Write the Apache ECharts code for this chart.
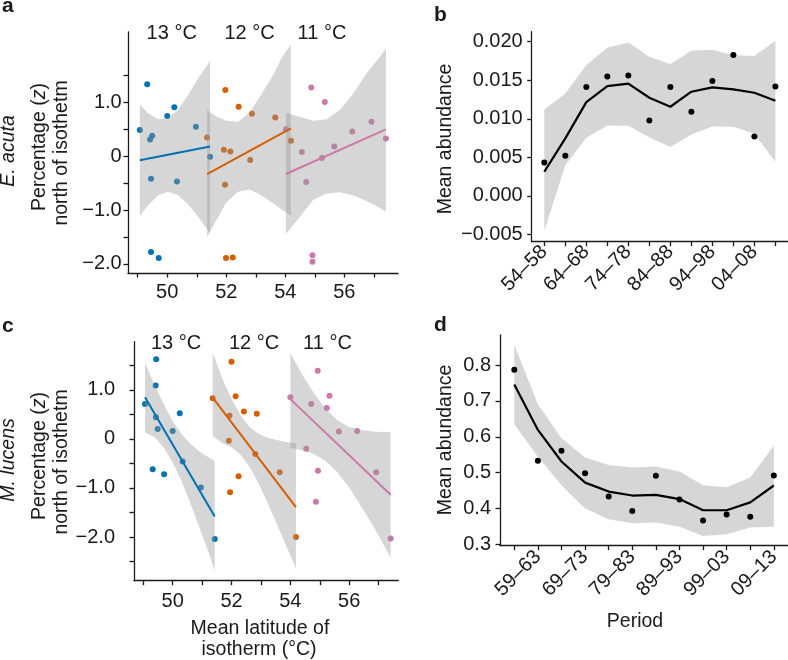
<!DOCTYPE html>
<html><head><meta charset="utf-8">
<script src="https://cdn.jsdelivr.net/npm/echarts@6/dist/echarts.min.js"></script>
<style>html,body{margin:0;padding:0;background:#fff}#c{width:788px;height:660px}</style>
</head><body><div id="c"></div>
<script>
// ---------- data ----------
const periods = ['54–58','59–63','64–68','69–73','74–78','79–83','84–88','89–93','94–98','99–03','04–08','09–13'];
const latTicks = [49,50,51,52,53,54,55,56,57];
const latLabels = [50,52,54,56];
const zTicksA = [-2,-1.5,-1,-0.5,0,0.5,1,1.5];
const zTicksC = [-2.5,-2,-1.5,-1,-0.5,0,0.5,1,1.5];
const zLabels = [-2,-1,0,1];
const abundTicksB = [-0.005,0,0.005,0.01,0.015,0.02];
const abundTicksD = [0.3,0.4,0.5,0.6,0.7,0.8];
const periodIdx = [0,1,2,3,4,5,6,7,8,9,10,11];
const periodLabelsB = [0,2,4,6,8,10];
const periodLabelsD = [1,3,5,7,9,11];
const tempNames = ['13 °C','12 °C','11 °C'];

// panel a – E. acuta
const acuta13Pts = [[49.32,1.34],[49.07,0.49],[49.49,0.38],[49.42,0.31],[50.0,0.75],[50.24,0.91],[50.97,0.55],[49.45,-0.42],[50.33,-0.47],[51.45,-0.01],[49.45,-1.78],[49.71,-1.89]];
const acuta12Pts = [[51.35,0.35],[51.97,1.23],[52.42,0.92],[52.87,0.79],[53.66,0.72],[51.92,0.12],[52.14,0.09],[52.81,-0.07],[51.96,-0.53],[54.19,0.29],[51.99,-1.89],[52.22,-1.88]];
const acuta11Pts = [[54.02,0.50],[54.88,1.28],[55.34,1.01],[54.56,0.08],[55.66,0.18],[56.27,0.46],[56.92,0.64],[57.41,0.33],[55.24,-0.03],[54.71,-0.48],[54.92,-1.84],[54.92,-1.96]];
const acuta13Fit = [[49.07,-0.075],[51.45,0.18]];
const acuta12Fit = [[51.35,-0.33],[54.19,0.52]];
const acuta11Fit = [[54.02,-0.33],[57.41,0.50]];
const acuta13Upper = [[49.07,0.96],[49.35,0.80],[49.68,0.69],[50.02,0.71],[50.36,0.86],[50.70,1.13],[51.04,1.44],[51.45,1.77]];
const acuta13Lower = [[49.07,-1.11],[49.35,-0.91],[49.68,-0.73],[50.02,-0.66],[50.36,-0.72],[50.70,-0.89],[51.04,-1.12],[51.45,-1.43]];
const acuta12Upper = [[51.35,0.86],[51.7,0.73],[52.0,0.66],[52.4,0.64],[52.8,0.82],[53.2,1.16],[53.6,1.52],[53.9,1.85],[54.19,2.08]];
const acuta12Lower = [[51.35,-1.50],[51.7,-1.15],[52.0,-0.86],[52.4,-0.66],[52.8,-0.62],[53.2,-0.73],[53.6,-0.88],[53.9,-1.00],[54.19,-1.10]];
const acuta11Upper = [[54.02,0.81],[54.5,0.73],[54.95,0.66],[55.4,0.69],[55.85,0.86],[56.31,1.17],[56.76,1.55],[57.21,1.85],[57.41,2.01]];
const acuta11Lower = [[54.02,-1.45],[54.5,-1.12],[54.95,-0.81],[55.4,-0.69],[55.85,-0.67],[56.31,-0.73],[56.76,-0.83],[57.21,-0.96],[57.41,-1.03]];

// panel c – M. lucens
const lucens13Pts = [[49.44,1.62],[49.42,1.09],[49.06,0.71],[49.43,0.44],[49.49,0.20],[50.0,0.16],[50.24,0.52],[50.34,-0.46],[49.32,-0.62],[49.71,-0.72],[50.96,-0.99],[51.43,-2.04]];
const lucens12Pts = [[51.36,0.83],[52.0,1.57],[52.14,0.87],[52.42,0.56],[52.86,0.51],[51.93,0.47],[51.91,-0.04],[52.81,-0.31],[53.64,-0.68],[52.24,-0.76],[51.95,-1.09],[54.19,-2.00]];
const lucens11Pts = [[54.0,0.85],[54.93,1.39],[55.33,0.88],[54.71,0.71],[55.24,0.63],[55.65,0.15],[56.27,0.16],[54.54,-0.20],[54.94,-0.65],[56.92,-0.68],[54.87,-1.28],[57.41,-2.03]];
const lucens13Fit = [[49.06,0.85],[51.43,-1.58]];
const lucens12Fit = [[51.36,0.84],[54.19,-1.39]];
const lucens11Fit = [[54.0,0.81],[57.41,-1.14]];
const lucens13Upper = [[49.06,1.54],[49.4,1.08],[49.7,0.70],[50.0,0.36],[50.3,0.10],[50.6,-0.10],[50.9,-0.25],[51.2,-0.37],[51.43,-0.45]];
const lucens13Lower = [[49.06,0.13],[49.4,0.03],[49.7,-0.18],[50.0,-0.48],[50.3,-0.86],[50.6,-1.31],[50.9,-1.79],[51.2,-2.28],[51.43,-2.68]];
const lucens12Upper = [[51.36,1.75],[51.7,1.21],[52.0,0.82],[52.3,0.49],[52.6,0.25],[52.9,0.11],[53.2,0.03],[53.5,-0.02],[53.8,-0.06],[54.19,-0.09]];
const lucens12Lower = [[51.36,0.06],[51.7,-0.09],[52.0,-0.17],[52.3,-0.32],[52.6,-0.56],[52.9,-0.88],[53.2,-1.27],[53.5,-1.68],[53.8,-2.10],[54.19,-2.63]];
const lucens11Upper = [[54.0,1.75],[54.4,1.31],[54.8,0.93],[55.2,0.61],[55.6,0.38],[56.0,0.24],[56.4,0.18],[56.8,0.15],[57.1,0.14],[57.41,0.14]];
const lucens11Lower = [[54.0,-0.18],[54.4,-0.23],[54.8,-0.31],[55.2,-0.45],[55.6,-0.68],[56.0,-0.99],[56.4,-1.37],[56.8,-1.76],[57.1,-2.08],[57.41,-2.42]];

// panel b – E. acuta mean abundance by period
const acutaMean   = [0.00433,0.00519,0.01411,0.0155,0.01563,0.00978,0.01411,0.01091,0.01489,0.01827,0.0077,0.0142];
const acutaSmooth = [0.00312,0.00745,0.01216,0.01424,0.01455,0.01273,0.01156,0.01351,0.01407,0.01381,0.01338,0.01234];
const acutaUpper  = [0.01121,0.01329,0.01697,0.01922,0.01991,0.01805,0.0171,0.01883,0.01896,0.01823,0.01814,0.02013];
const acutaLower  = [-0.00455,0.00398,0.00753,0.00913,0.00909,0.00758,0.00632,0.00797,0.009,0.00896,0.00805,0.00442];

// panel d – M. lucens mean abundance by period
const lucensMean   = [0.787,0.533,0.561,0.498,0.433,0.393,0.491,0.425,0.366,0.383,0.377,0.492];
const lucensSmooth = [0.746,0.619,0.531,0.472,0.447,0.436,0.438,0.426,0.395,0.395,0.417,0.464];
const lucensUpper  = [0.856,0.691,0.596,0.542,0.521,0.514,0.517,0.503,0.465,0.459,0.486,0.575];
const lucensLower  = [0.635,0.544,0.465,0.400,0.370,0.359,0.361,0.349,0.323,0.328,0.347,0.349];

// ---------- styling ----------
const FONT = '"Liberation Sans", Arial, Helvetica, sans-serif';
const INK = '#1a1a1a';
const COLS = ['#0072B2', '#D55E00', '#CC79A7'];
const BAND = 'rgba(153,153,153,0.4)';
const MINUS = '\u2212';

function zFmt(v) { return v === 0 ? '0' : (v < 0 ? MINUS : '') + Math.abs(v).toFixed(1); }
function abFmt(v) { return (v < -1e-9 ? MINUS : '') + Math.abs(v).toFixed(3); }
function pairs(arr) { return arr.map((v, i) => [periodIdx[i], v]); }

function axisBase(gridIndex, min, max, ticks, labels, fmt, margin, extra) {
  return Object.assign({
    type: 'value', gridIndex, min, max,
    splitLine: { show: false },
    axisLine: { show: true, onZero: false, lineStyle: { color: INK, width: 1.3 } },
    axisTick: { show: true, customValues: ticks, length: 4.5, lineStyle: { color: INK, width: 1.3 } },
    axisLabel: { show: true, customValues: labels, formatter: fmt, color: INK, fontSize: 20, fontFamily: FONT, margin }
  }, extra || {});
}

function band(ai, upper, lower, z) {
  return {
    type: 'custom', xAxisIndex: ai, yAxisIndex: ai, z, silent: true,
    data: [[0, 0]],
    renderItem: function (params, api) {
      const pts = upper.concat(lower.slice().reverse()).map(p => api.coord(p));
      return { type: 'polygon', shape: { points: pts }, style: { fill: BAND, stroke: null } };
    }
  };
}
function pts(ai, data, color, z) {
  return { type: 'scatter', xAxisIndex: ai, yAxisIndex: ai, data, symbolSize: 6, z,
    itemStyle: { color, opacity: 1 }, silent: true };
}
function line(ai, data, color, z, w) {
  return { type: 'line', xAxisIndex: ai, yAxisIndex: ai, data, showSymbol: false, z, silent: true,
    lineStyle: { color, width: w || 2 } };
}

const series = [
  // panel a
  pts(0, acuta13Pts, COLS[0], 1), pts(0, acuta12Pts, COLS[1], 1), pts(0, acuta11Pts, COLS[2], 1),
  band(0, acuta13Upper, acuta13Lower, 2), band(0, acuta12Upper, acuta12Lower, 2), band(0, acuta11Upper, acuta11Lower, 2),
  line(0, acuta13Fit, COLS[0], 3), line(0, acuta12Fit, COLS[1], 3), line(0, acuta11Fit, COLS[2], 3),
  // panel b
  band(1, pairs(acutaUpper), pairs(acutaLower), 1),
  line(1, pairs(acutaSmooth), '#000', 3, 2.2),
  pts(1, pairs(acutaMean), '#000', 4),
  // panel c
  pts(2, lucens13Pts, COLS[0], 1), pts(2, lucens12Pts, COLS[1], 1), pts(2, lucens11Pts, COLS[2], 1),
  band(2, lucens13Upper, lucens13Lower, 2), band(2, lucens12Upper, lucens12Lower, 2), band(2, lucens11Upper, lucens11Lower, 2),
  line(2, lucens13Fit, COLS[0], 3), line(2, lucens12Fit, COLS[1], 3), line(2, lucens11Fit, COLS[2], 3),
  // panel d
  band(3, pairs(lucensUpper), pairs(lucensLower), 1),
  line(3, pairs(lucensSmooth), '#000', 3, 2.2),
  pts(3, pairs(lucensMean), '#000', 4)
];

function txt(text, x, y, opts) {
  opts = opts || {};
  const fs = opts.size || 19.5;
  const el = {
    type: 'text', x, y, rotation: opts.rot || 0, silent: true,
    style: {
      text, fill: INK,
      font: (opts.italic ? 'italic ' : '') + (opts.bold ? 'bold ' : '') + fs + 'px ' + FONT,
      align: opts.align || 'center', verticalAlign: 'middle',
      textAlign: opts.align || 'center', textVerticalAlign: 'middle'
    }
  };
  if (opts.rich) {
    el.style.rich = opts.rich;
  }
  return el;
}
const richZ = {
  n: { fontSize: 19.5, fontFamily: FONT, color: INK },
  i: { fontSize: 19.5, fontFamily: FONT, color: INK, fontStyle: 'italic' }
};
const R = Math.PI / 2;

const graphic = [
  txt('a', 2, 6.5, { bold: true, size: 21, align: 'left' }),
  txt('b', 434, 15, { bold: true, size: 21, align: 'left' }),
  txt('c', 2, 326.5, { bold: true, size: 21, align: 'left' }),
  txt('d', 434, 325, { bold: true, size: 21, align: 'left' }),
  // temperature labels
  txt(tempNames[0], 171.7, 33.5, { size: 20 }), txt(tempNames[1], 249.5, 33.5, { size: 20 }), txt(tempNames[2], 322, 33.5, { size: 20 }),
  txt(tempNames[0], 176, 343, { size: 20 }), txt(tempNames[1], 254, 343, { size: 20 }), txt(tempNames[2], 327.5, 343, { size: 20 }),
  // y titles a
  txt('E. acuta', 8.5, 151, { italic: true, rot: R }),
  txt('{n|Percentage (}{i|z}{n|)}', 39.5, 147, { rot: R, rich: richZ }),
  txt('north of isothetm', 62, 153, { rot: R }),
  // y titles c
  txt('M. lucens', 8.5, 460, { italic: true, rot: R }),
  txt('{n|Percentage (}{i|z}{n|)}', 39.5, 456, { rot: R, rich: richZ }),
  txt('north of isothetm', 62, 462, { rot: R }),
  // b, d titles
  txt('Mean abundance', 445.5, 139, { rot: R }),
  txt('Mean abundance', 445.5, 440, { rot: R }),
  // x titles
  txt('Mean latitude of', 260, 628.5, {}),
  txt('isotherm (°C)', 259, 649.5, {}),
  txt('Period', 635, 622, {})
];

const option = {
  animation: false,
  backgroundColor: '#fff',
  grid: [
    { left: 128, top: 32, width: 270, height: 241 },
    { left: 531.7, top: 31.7, width: 256.3, height: 210 },
    { left: 134, top: 341.7, width: 264.3, height: 239 },
    { left: 500, top: 335, width: 288, height: 210.7 }
  ],
  xAxis: [
    axisBase(0, 48.67, 57.82, latTicks, latLabels, v => String(v), 9.5),
    axisBase(1, -0.6, 11.6, periodIdx, periodLabelsB, v => periods[Math.round(v)], 7, {}),
    axisBase(2, 48.685, 57.67, latTicks, latLabels, v => String(v), 11),
    axisBase(3, -0.606, 11.6, periodIdx, periodLabelsD, v => periods[Math.round(v)], 8, {})
  ],
  yAxis: [
    axisBase(0, -2.17, 2.31, zTicksA, zLabels, zFmt, 6.3),
    axisBase(1, -0.00596, 0.0213, abundTicksB, abundTicksB, abFmt, 9),
    axisBase(2, -2.89, 1.98, zTicksC, zLabels, zFmt, 19),
    axisBase(3, 0.296, 0.884, abundTicksD, abundTicksD, v => v.toFixed(1), 9)
  ],
  series,
  graphic
};
option.xAxis[1].axisLabel.rotate = 45;
option.xAxis[3].axisLabel.rotate = 45;

const chart = echarts.init(document.getElementById('c'), null, { renderer: 'canvas' });
chart.setOption(option);
</script>
</body></html>
